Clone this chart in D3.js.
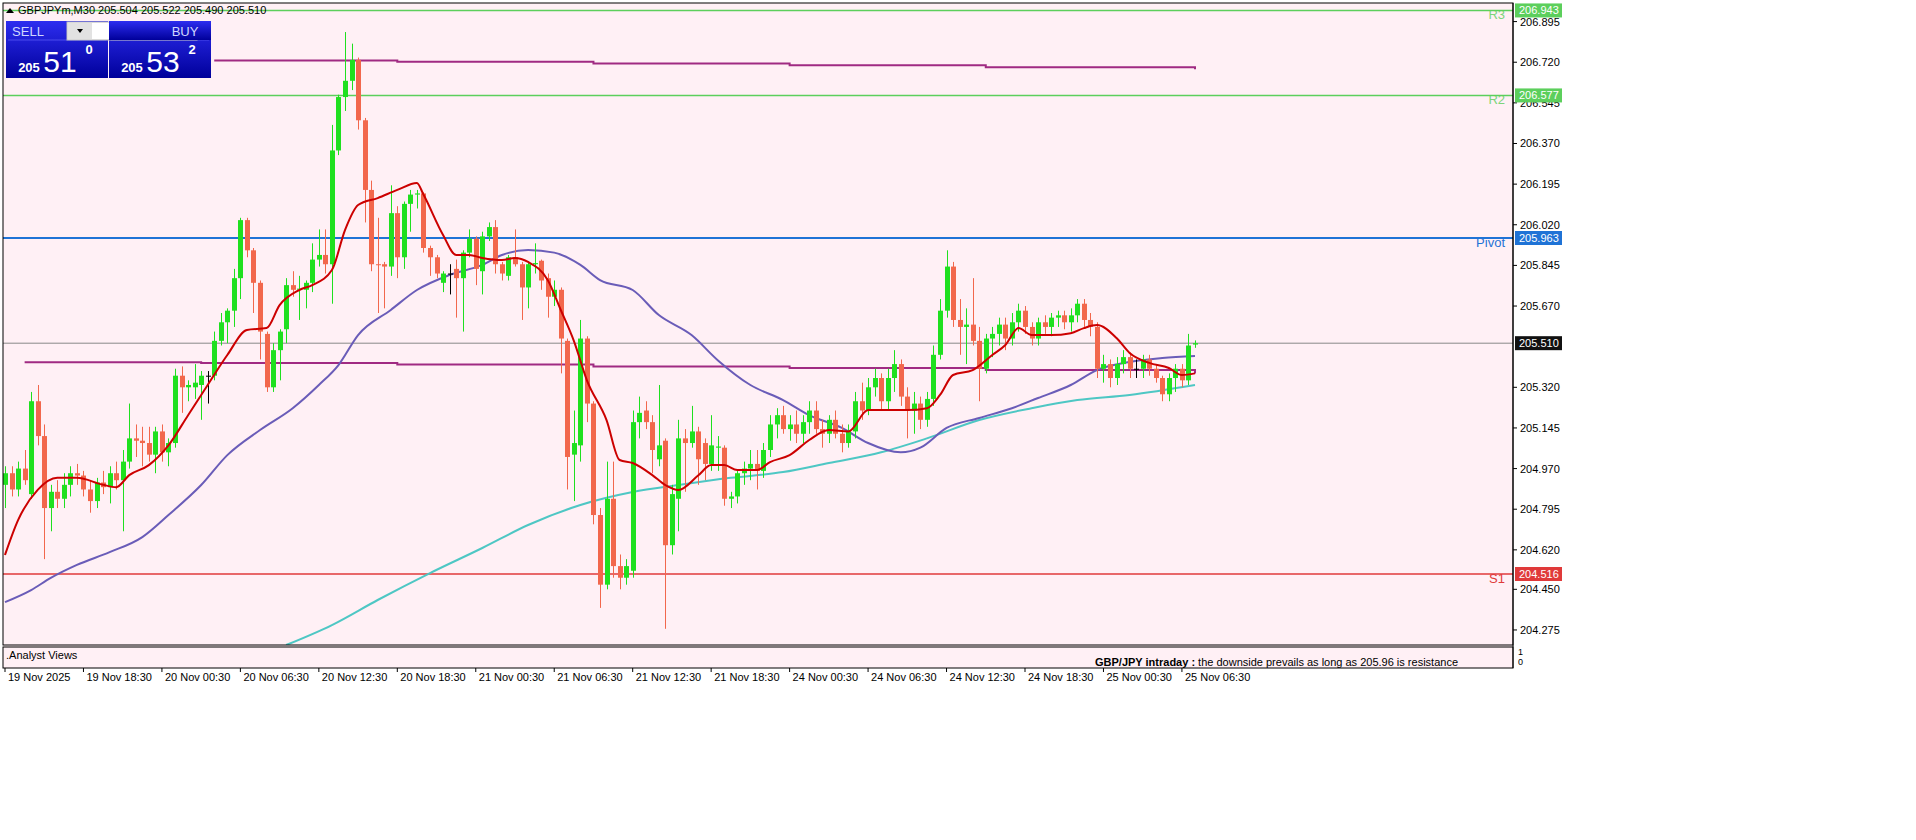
<!DOCTYPE html>
<html><head><meta charset="utf-8">
<script src="https://cdn.jsdelivr.net/npm/d3@7"></script>
<style>body{margin:0;background:#fff;}svg{display:block;font-family:"Liberation Sans",Arial,sans-serif;}</style>
</head><body><svg id="c" width="1916" height="840"></svg>
<script>
const opens=[204.90,204.95,204.88,204.97,204.86,205.26,205.11,204.80,204.87,204.84,204.90,204.95,204.94,204.88,204.83,204.91,204.89,204.95,204.92,205.00,205.10,205.09,205.08,205.03,205.13,205.04,205.08,205.37,205.32,205.32,205.33,205.37,205.37,205.52,205.60,205.65,205.79,206.04,205.91,205.77,205.55,205.32,205.48,205.57,205.76,205.74,205.74,205.77,205.87,205.89,205.85,206.34,206.57,206.64,206.73,206.47,206.17,205.85,205.85,205.84,206.07,205.88,206.11,206.15,206.155,205.92,205.88,205.77,205.81,205.83,205.79,205.90,205.96,205.82,205.97,206.01,205.85,205.80,205.88,205.85,205.75,205.85,205.865,205.79,205.71,205.74,205.52,205.03,205.07,205.53,205.25,204.77,204.47,204.84,204.55,204.50,204.53,205.17,205.22,205.17,205.01,205.09,204.64,204.84,205.10,205.08,205.13,205.08,204.99,205.06,205.06,204.84,204.85,204.95,204.97,204.99,204.96,205.05,205.16,205.20,205.14,205.16,205.12,205.17,205.22,205.14,205.12,205.18,205.12,205.08,205.13,205.26,205.22,205.32,205.36,205.26,205.36,205.42,205.28,205.22,205.25,205.18,205.27,205.46,205.65,205.84,205.61,205.58,205.59,205.52,205.40,205.53,205.55,205.59,205.53,205.60,205.65,205.58,205.53,205.60,205.58,205.62,205.63,205.60,205.63,205.68,205.61,205.58,205.40,205.42,205.36,205.42,205.45,205.40,205.40,205.44,205.40,205.36,205.29,205.36,205.40,205.35,205.504];
const highs=[204.98,204.98,205.00,205.05,205.30,205.33,205.16,204.90,204.92,204.95,204.98,204.99,204.96,204.92,204.93,204.96,204.98,205.00,205.05,205.25,205.16,205.15,205.15,205.15,205.16,205.10,205.40,205.41,205.35,205.42,205.39,205.39,205.56,205.64,205.66,205.83,206.05,206.05,205.92,205.78,205.56,205.51,205.57,205.79,205.82,205.80,205.78,205.94,206.00,206.00,206.45,206.58,206.85,206.80,206.74,206.48,206.21,206.05,205.86,206.19,206.10,206.12,206.17,206.17,206.16,205.93,205.89,205.82,205.85,205.87,205.91,206.00,205.97,205.99,206.03,206.04,205.86,205.89,206.00,205.86,205.86,205.94,205.87,205.81,205.78,205.75,205.53,205.22,205.61,205.54,205.26,204.80,205.00,205.00,204.60,204.58,205.22,205.28,205.26,205.20,205.33,205.10,204.90,205.18,205.14,205.24,205.15,205.10,205.20,205.11,205.07,204.87,204.96,205.00,205.05,205.05,205.08,205.20,205.23,205.24,205.20,205.22,205.20,205.26,205.26,205.18,205.20,205.22,205.16,205.16,205.30,205.34,205.36,205.40,205.38,205.40,205.48,205.44,205.32,205.30,205.28,205.30,205.50,205.70,205.91,205.86,205.70,205.66,205.79,205.58,205.55,205.58,205.62,205.62,205.64,205.68,205.67,205.60,205.62,205.63,205.64,205.65,205.65,205.66,205.70,205.70,205.64,205.60,205.46,205.44,205.45,205.48,205.47,205.44,205.46,205.46,205.42,205.37,205.38,205.42,205.42,205.55,205.522];
const lows=[204.80,204.85,204.85,204.90,204.84,205.07,204.58,204.70,204.80,204.80,204.85,204.90,204.85,204.78,204.80,204.86,204.82,204.88,204.70,204.97,205.02,204.98,205.00,204.95,205.00,204.98,205.06,205.21,205.26,205.27,205.18,205.25,205.35,205.50,205.51,205.58,205.70,205.88,205.64,205.44,205.30,205.30,205.35,205.51,205.71,205.61,205.66,205.73,205.84,205.81,205.68,206.32,206.51,206.60,206.43,206.03,205.82,205.64,205.66,205.80,205.79,205.83,205.99,206.09,205.90,205.80,205.79,205.73,205.72,205.62,205.56,205.88,205.76,205.72,205.95,205.81,205.78,205.78,205.84,205.61,205.66,205.81,205.74,205.62,205.67,205.38,204.88,204.83,205.00,205.17,204.73,204.37,204.45,204.50,204.45,204.47,204.50,205.10,205.14,204.95,204.98,204.28,204.60,204.70,204.87,205.06,204.90,204.92,204.96,204.96,204.81,204.80,204.82,204.90,204.92,204.88,204.93,205.02,205.10,205.12,205.09,205.08,205.08,205.12,205.12,205.06,205.08,205.10,205.04,205.06,205.10,205.18,205.20,205.28,205.22,205.22,205.30,205.24,205.10,205.12,205.14,205.15,205.24,205.44,205.62,205.58,205.46,205.42,205.50,205.26,205.38,205.45,205.50,205.48,205.50,205.56,205.55,205.50,205.50,205.55,205.54,205.58,205.57,205.56,205.60,205.58,205.54,205.36,205.34,205.32,205.33,205.38,205.36,205.36,205.36,205.37,205.34,205.26,205.26,205.30,205.32,205.33,205.490];
const closes=[204.95,204.88,204.97,204.92,205.26,205.11,204.80,204.87,204.84,204.90,204.95,204.94,204.88,204.83,204.91,204.89,204.95,204.92,205.00,205.10,205.09,205.08,205.03,205.13,205.04,205.08,205.37,205.32,205.33,205.34,205.37,205.37,205.52,205.60,205.65,205.79,206.04,205.91,205.77,205.56,205.32,205.48,205.56,205.76,205.74,205.745,205.77,205.87,205.89,205.85,206.34,206.57,206.64,206.73,206.47,206.17,205.85,205.846,205.84,206.07,205.88,206.11,206.15,206.155,205.92,205.88,205.81,205.81,205.81,205.79,205.90,205.96,205.83,205.97,206.01,205.85,205.81,205.88,205.85,205.75,205.85,205.855,205.78,205.71,205.74,205.53,205.02,205.08,205.53,205.25,204.77,204.47,204.84,204.55,204.50,204.55,205.17,205.21,205.17,205.05,205.07,204.64,204.86,205.10,205.08,205.13,205.01,204.99,205.07,205.065,204.84,204.85,204.95,204.97,204.99,204.96,205.05,205.16,205.20,205.14,205.16,205.12,205.17,205.22,205.14,205.12,205.18,205.12,205.08,205.13,205.26,205.22,205.32,205.36,205.26,205.36,205.42,205.28,205.22,205.25,205.18,205.27,205.46,205.65,205.84,205.61,205.58,205.59,205.52,205.40,205.53,205.55,205.59,205.53,205.60,205.65,205.58,205.53,205.60,205.58,205.62,205.63,205.60,205.63,205.68,205.61,205.58,205.40,205.42,205.36,205.42,205.45,205.40,205.40,205.44,205.40,205.36,205.29,205.36,205.40,205.35,205.50,205.510];

const maFastIdx=[0,2,5,8,11,15,17,19,22,25,28,31,34,37,40,42,45,47,50,52,54,57,60,63,64,67,69,71,73,76,78,80,83,85,87,89,92,94,96,99,101,103,106,108,110,112,115,117,120,123,126,129,132,135,138,141,143,145,148,151,153,155,157,160,163,165,167,170,172,175,178,180,182];
const maFastVal=[204.598,204.748,204.878,204.93,204.93,204.90,204.89,204.942,204.985,205.07,205.20,205.33,205.459,205.567,205.575,205.674,205.739,205.76,205.825,205.997,206.105,206.135,206.17,206.20,206.15,205.976,205.89,205.89,205.877,205.868,205.877,205.86,205.782,205.653,205.52,205.35,205.179,205.007,204.994,204.942,204.899,204.878,204.94,204.985,204.985,204.964,204.964,204.998,205.028,205.093,205.136,205.13,205.222,205.222,205.222,205.23,205.287,205.373,205.394,205.459,205.502,205.575,205.545,205.545,205.553,205.575,205.588,205.532,205.468,205.425,205.403,205.373,205.38];
const maMidIdx=[0,4,7,11,16,21,25,30,34,39,44,48,51,54,59,63,68,73,76,80,84,88,91,96,100,105,109,114,119,123,128,132,137,140,144,149,154,158,163,167,172,177,182];
const maMidVal=[204.395,204.447,204.499,204.555,204.61,204.675,204.77,204.899,205.028,205.136,205.23,205.33,205.416,205.545,205.653,205.739,205.804,205.847,205.89,205.911,205.90,205.847,205.782,205.739,205.631,205.545,205.437,205.33,205.265,205.20,205.145,205.08,205.04,205.06,205.145,205.188,205.23,205.274,205.33,205.394,205.429,205.446,205.455];
const maSlowIdx=[43,50,57,65,73,80,88,96,103,111,119,126,134,141,149,157,164,172,182];
const maSlowVal=[204.21,204.296,204.404,204.52,204.628,204.727,204.813,204.869,204.899,204.93,204.955,204.994,205.04,205.10,205.179,205.23,205.265,205.287,205.33];
const bandUpIdx=[32,60,90,120,150,182];
const bandUpVal=[206.727,206.722,206.715,206.707,206.698,206.690];
const bandLoIdx=[3,30,60,90,120,150,182];
const bandLoVal=[205.428,205.425,205.418,205.41,205.403,205.395,205.38];

const levelNames=["R3","R2","Pivot","S1"];
const levelValues=[206.943,206.577,205.963,204.516];
const levelColors=["#5ccf5c","#5ccf5c","#1f73d6","#e03a3a"];
const lastPrice=205.510;
const priceTicks=["206.895","206.720","206.545","206.370","206.195","206.020","205.845","205.670","205.320","205.145","204.970","204.795","204.620","204.450","204.275"];
const timeLabels=["19 Nov 2025","19 Nov 18:30","20 Nov 00:30","20 Nov 06:30","20 Nov 12:30","20 Nov 18:30","21 Nov 00:30","21 Nov 06:30","21 Nov 12:30","21 Nov 18:30","24 Nov 00:30","24 Nov 06:30","24 Nov 12:30","24 Nov 18:30","25 Nov 00:30","25 Nov 06:30"];
const timeIdx=[0,12,24,36,48,60,72,84,96,108,120,132,144,156,168,180];

const svg=d3.select("#c");
const L=3,R=1513,T=3,B=645;
const x=d3.scaleLinear().domain([0,182]).range([5,1195]);
const y=d3.scaleLinear().domain([205.963,204.516]).range([238,574]);

svg.append("rect").attr("width",1916).attr("height",840).attr("fill","#fff");
svg.append("rect").attr("x",L).attr("y",T).attr("width",R-L).attr("height",665).attr("fill","#fff0f5");
const g=svg.append("g");
const clip=svg.append("clipPath").attr("id","pc").append("rect").attr("x",L).attr("y",T).attr("width",R-L).attr("height",B-T);
g.attr("clip-path","url(#pc)");

// levels
levelValues.forEach((v,i)=>{
  g.append("line").attr("x1",L).attr("x2",R).attr("y1",y(v)).attr("y2",y(v)).attr("stroke",levelColors[i]).attr("stroke-width",i==2?2:1.5);
});
g.append("line").attr("x1",L).attr("x2",R).attr("y1",y(lastPrice)).attr("y2",y(lastPrice)).attr("stroke","#888").attr("stroke-width",1);

const lineGen=d3.line().x(d=>x(d[0])).y(d=>y(d[1])).curve(d3.curveMonotoneX);
const stepGen=d3.line().x(d=>x(d[0])).y(d=>y(d[1])).curve(d3.curveStepAfter);
const zip=(a,b)=>a.map((v,i)=>[v,b[i]]);
g.append("path").attr("d",stepGen(zip(bandUpIdx,bandUpVal))).attr("fill","none").attr("stroke","#a02a82").attr("stroke-width",2);
g.append("path").attr("d",stepGen(zip(bandLoIdx,bandLoVal))).attr("fill","none").attr("stroke","#a02a82").attr("stroke-width",2);
g.append("path").attr("d",lineGen(zip(maSlowIdx,maSlowVal))).attr("fill","none").attr("stroke","#4ec7c4").attr("stroke-width",2);
g.append("path").attr("d",lineGen(zip(maMidIdx,maMidVal))).attr("fill","none").attr("stroke","#6a5cb8").attr("stroke-width",2);

// candles
const up="#1fe01f",dn="#f2674c";
opens.forEach((o,i)=>{
  const c=closes[i];const col=c>o?up:(c<o?dn:"#000");
  const cx=Math.round(x(i))+0.5;
  g.append("line").attr("x1",cx).attr("x2",cx).attr("y1",y(highs[i])).attr("y2",y(lows[i])).attr("stroke",col).attr("stroke-width",1);
  const y1=y(Math.max(o,c)),y2=y(Math.min(o,c));
  g.append("rect").attr("x",cx-2.5).attr("y",y1).attr("width",5).attr("height",Math.max(1,y2-y1)).attr("fill",col);
});
g.append("path").attr("d",lineGen(zip(maFastIdx,maFastVal))).attr("fill","none").attr("stroke","#cc0000").attr("stroke-width",2);

// level labels
levelValues.forEach((v,i)=>{
  svg.append("text").attr("x",1505).attr("y",y(v)+9).attr("text-anchor","end").attr("font-size",13).attr("fill",levelColors[i]).attr("opacity",i<2?0.8:1).text(levelNames[i]);
});

// borders
svg.append("rect").attr("x",L).attr("y",T).attr("width",R-L).attr("height",B-T).attr("fill","none").attr("stroke","#000");
svg.append("rect").attr("x",L).attr("y",B+2).attr("width",R-L).attr("height",21).attr("fill","none").attr("stroke","#000");
svg.append("line").attr("x1",R).attr("x2",R).attr("y1",T).attr("y2",668).attr("stroke","#000");

// price axis
priceTicks.forEach(t=>{
  const yy=y(+t);
  svg.append("line").attr("x1",R).attr("x2",R+4).attr("y1",yy).attr("y2",yy).attr("stroke","#000");
  svg.append("text").attr("x",R+7).attr("y",yy+4).attr("font-size",11).attr("fill","#000").text(t);
});
const boxes=[[levelValues[0],"#5ccf5c","#fff"],[levelValues[1],"#5ccf5c","#fff"],[levelValues[2],"#1f73d6","#fff"],[lastPrice,"#111","#fff"],[levelValues[3],"#e03a3a","#fff"]];
boxes.forEach(b=>{
  const yy=y(b[0]);
  svg.append("rect").attr("x",R+2).attr("y",yy-7).attr("width",47).attr("height",14).attr("fill",b[1]);
  svg.append("text").attr("x",R+6).attr("y",yy+4).attr("font-size",11).attr("fill",b[2]).text(b[0].toFixed(3));
});
svg.append("text").attr("x",R+5).attr("y",655).attr("font-size",9).text("1");
svg.append("text").attr("x",R+5).attr("y",665).attr("font-size",9).text("0");

// time axis
timeLabels.forEach((t,i)=>{
  const xx=x(timeIdx[i]);
  svg.append("line").attr("x1",xx).attr("x2",xx).attr("y1",668).attr("y2",672).attr("stroke","#000");
  svg.append("text").attr("x",xx+3).attr("y",681).attr("font-size",11).attr("fill","#000").text(t);
});

// subwindow
svg.append("text").attr("x",6).attr("y",659).attr("font-size",11).text(".Analyst Views");
const note=svg.append("text").attr("x",1095).attr("y",666).attr("font-size",11).attr("fill","#000");
note.append("tspan").attr("font-weight","bold").text("GBP/JPY intraday :");
note.append("tspan").text("  the downside prevails as long as 205.96 is resistance");

// header
svg.append("path").attr("d","M6,13 L10,8 L14,13 Z").attr("fill","#000");
svg.append("text").attr("x",18).attr("y",14).attr("font-size",11).attr("fill","#000").text("GBPJPYm,M30  205.504 205.522 205.490 205.510");

// trade panel
const grad=svg.append("defs").append("linearGradient").attr("id","bg").attr("x1",0).attr("x2",0).attr("y1",0).attr("y2",1);
grad.append("stop").attr("offset","0").attr("stop-color","#2d2df0");
grad.append("stop").attr("offset","1").attr("stop-color","#00009a");
[[6,"SELL","51","0"],[134,"BUY","53","2"]].forEach((p,k)=>{
  const bx=k?109:6;
  svg.append("rect").attr("x",bx).attr("y",21).attr("width",102).attr("height",57).attr("fill","url(#bg)");
  svg.append("line").attr("x1",bx+2).attr("x2",bx+100).attr("y1",40).attr("y2",40).attr("stroke","#6a6aff").attr("opacity",0.6);
  svg.append("text").attr("x",k?186:28).attr("y",36).attr("font-size",13).attr("fill","#cfd6ff").attr("text-anchor",k?"middle":"middle").text(p[1]).attr("x",k?185:28);
  svg.append("text").attr("x",bx+23).attr("y",72).attr("font-size",13).attr("font-weight","bold").attr("fill","#fff").attr("text-anchor","middle").text("205");
  svg.append("text").attr("x",bx+54).attr("y",72).attr("font-size",30).attr("fill","#fff").attr("text-anchor","middle").text(p[2]);
  svg.append("text").attr("x",bx+83).attr("y",54).attr("font-size",13).attr("font-weight","bold").attr("fill","#fff").attr("text-anchor","middle").text(p[3]);
});
svg.append("rect").attr("x",67).attr("y",22).attr("width",130).attr("height",18).attr("fill","#f4f4f4").attr("stroke","#bbb");
svg.append("rect").attr("x",68).attr("y",23).attr("width",24).attr("height",16).attr("fill","#e2e2e2");
svg.append("rect").attr("x",171).attr("y",23).attr("width",25).attr("height",16).attr("fill","#e2e2e2");
svg.append("rect").attr("x",92).attr("y",23).attr("width",79).attr("height",16).attr("fill","#fff");
svg.append("path").attr("d","M77,29 L83,29 L80,33 Z").attr("fill","#000");
svg.append("path").attr("d","M180,33 L186,33 L183,29 Z").attr("fill","#000");
svg.append("text").attr("x",166).attr("y",36).attr("font-size",13).attr("text-anchor","end").attr("fill","#000").text("1.00");
svg.append("rect").attr("x",109).attr("y",21).attr("width",102).attr("height",19).attr("fill","url(#bg)");
svg.append("text").attr("x",185).attr("y",36).attr("font-size",13).attr("fill","#cfd6ff").attr("text-anchor","middle").text("BUY");
svg.append("rect").attr("x",160).attr("y",22).attr("width",0).attr("height",0);
</script></body></html>
